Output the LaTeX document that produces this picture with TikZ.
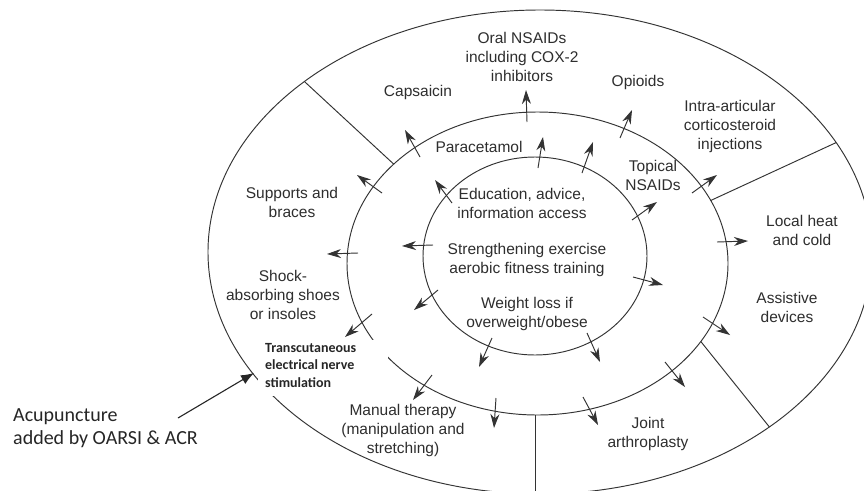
\documentclass[tikz,border=0pt]{standalone}
\usepackage{fontspec}
\setmainfont{Liberation Sans}
\newfontfamily\calibrifont{Carlito}
\usetikzlibrary{arrows.meta}
\definecolor{textcol}{HTML}{2E2E2E}
\definecolor{linecol}{HTML}{333333}
\begin{document}
\begin{tikzpicture}[x=1pt,y=-1pt,
  ring/.style={draw=linecol, line width=0.95pt},
  arr/.style={draw=linecol, line width=0.95pt, -{Stealth[length=14pt,width=9pt,inset=4.5pt]}},
  lab/.style={text=textcol, font=\fontsize{15.5}{19}\selectfont, align=center, inner sep=0pt},
]
\useasboundingbox (0,0) rectangle (864,490);
\clip (0,0) rectangle (864,490);
\fill[white] (0,0) rectangle (864,490);

% rings
\draw[ring] (540,252) ellipse [x radius=332pt, y radius=242pt];
\draw[ring] (537.5,263.5) ellipse [x radius=190.5pt, y radius=151.5pt];
\draw[ring] (535,256) ellipse [x radius=112pt, y radius=99pt];

% dividers of the outer ring
\draw[ring] (304.4,81.5) -- (393.7,164.1);
\draw[ring] (710.7,200.5) -- (836.1,142.6);
\draw[ring] (700.8,341.5) -- (769.4,427);
\draw[ring] (535,415) -- (535,494);

% arrows across the inner ellipse
\draw[arr] (452,203) -- (435,180);
\draw[arr] (538,168) -- (543,137);
\draw[arr] (582,173) -- (593,142);
\draw[arr] (632,220) -- (657,202);
\draw[arr] (633,277) -- (663,285);
\draw[arr] (587,333) -- (600,362);
\draw[arr] (492,338) -- (479,367);
\draw[arr] (438,290) -- (414,310);
\draw[arr] (433,245) -- (402,246);

% arrows across the middle ellipse
\draw[arr] (420,157) -- (405,130);
\draw[arr] (527,122) -- (526,90);
\draw[arr] (620,138) -- (632,110);
\draw[arr] (692,193) -- (717,175);
\draw[arr] (717,242) -- (748,241);
\draw[arr] (703,317) -- (730,335);
\draw[arr] (665,362) -- (685,387);
\draw[arr] (583,397) -- (598,425);
\draw[arr] (496,398) -- (494,428);
\draw[arr] (432,375) -- (413,400);
\draw[arr] (372,314) -- (345,337);
\draw[arr] (358,253) -- (327,254);
\draw[arr] (382,193) -- (357,175);

% labels
\node[lab] (oral) at (522,57) {Oral NSAIDs\\including COX-2\\inhibitors};
\node[lab] (caps) at (418,92) {Capsaicin};
\node[lab] (opi) at (638,82) {Opioids};
\node[lab] (intra) at (730,126) {Intra-articular\\corticosteroid\\injections};
\node[lab] (para) at (479,147) {Paracetamol};
\node[lab] (topn) at (653,175) {Topical\\NSAIDs};
\node[lab] (edu) at (522,203) {Education, advice,\\information access};
\node[lab] (str) at (527,260) {Strengthening exercise\\aerobic fitness training};
\node[lab] (wl) at (527,313.5) {Weight loss if\\overweight/obese};
\node[lab] (sup) at (292,202.5) {Supports and\\braces};
\node[lab] (shock) at (283,295) {Shock-\\absorbing shoes\\or insoles};
\node[lab] (heat) at (802,230) {Local heat\\and cold};
\node[lab] (assist) at (787,307) {Assistive\\devices};
\node[lab] (joint) at (648,434) {Joint\\arthroplasty};
\node[lab] (manual) at (403,430) {Manual therapy\\(manipulation and\\stretching)};

% pasted TENS label
\fill[white] (258,340) rectangle (388,396);
\node[text=black!85, font=\calibrifont\bfseries\fontsize{14}{17.5}\selectfont, align=left, inner sep=0pt, anchor=west] (tens) at (265,365.5) {Transcutaneous\\electrical nerve\\stimulation};

% annotation
\node[text=black!85, font=\calibrifont\fontsize{20}{23}\selectfont, align=left, inner sep=0pt, anchor=west] (acu) at (13,428.5) {Acupuncture\\added by OARSI \& ACR};
\coordinate (acustart) at (178,418);
\coordinate (acutip) at (254,373);
\draw[draw=black!85, line width=1.1pt, -{Latex[length=13pt,width=10pt]}] (acustart) -- (acutip);
\end{tikzpicture}
\end{document}
